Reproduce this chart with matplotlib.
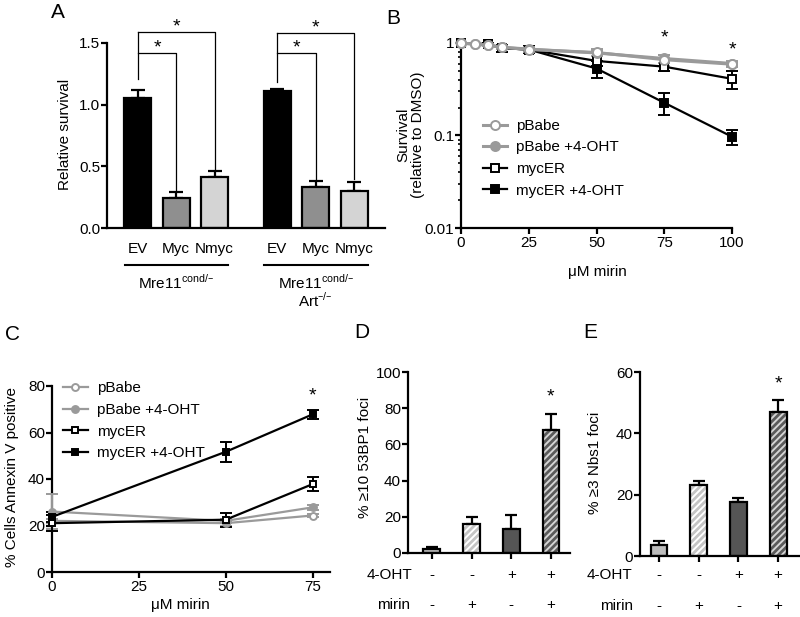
import matplotlib
matplotlib.use('Agg')
import matplotlib.pyplot as plt
from matplotlib.transforms import blended_transform_factory as btf
from matplotlib.ticker import FixedLocator, LogLocator, NullFormatter, FixedFormatter

plt.rcParams['font.family'] = ['Liberation Sans', 'DejaVu Sans']
plt.rcParams['font.size'] = 11
plt.rcParams['axes.linewidth'] = 1.6
plt.rcParams['xtick.major.width'] = 1.6
plt.rcParams['ytick.major.width'] = 1.6
plt.rcParams['xtick.major.size'] = 4
plt.rcParams['ytick.major.size'] = 4
plt.rcParams['xtick.major.pad'] = 2
plt.rcParams['ytick.major.pad'] = 1
plt.rcParams['hatch.linewidth'] = 2.0

# ---------------- data ----------------
# Panel A
a_labels = ['EV', 'Myc', 'Nmyc', 'EV', 'Myc', 'Nmyc']
a_pos = [0, 1, 2, 3.63, 4.63, 5.63]
a_vals = [1.05, 0.24, 0.41, 1.11, 0.33, 0.30]
a_err = [0.07, 0.05, 0.05, 0.02, 0.05, 0.07]
a_colors = ['black', '#8f8f8f', '#d4d4d4', 'black', '#8f8f8f', '#d4d4d4']
a_yticks = [0.0, 0.5, 1.0, 1.5]

# Panel B
b_x_pb = [0, 5, 10, 15, 25, 50, 75, 100]
b_pbabe = [1.0, 0.97, 0.95, 0.90, 0.85, 0.79, 0.66, 0.59]
b_pbabe_err = [0.0, 0.0, 0.03, 0.03, 0.05, 0.07, 0.09, 0.04]
b_pbabe_oht = [1.0, 0.97, 0.95, 0.90, 0.86, 0.78, 0.68, 0.60]
b_pbabe_oht_err = [0.0, 0.0, 0.03, 0.03, 0.05, 0.06, 0.07, 0.04]
b_x_myc = [0, 10, 15, 25, 50, 75, 100]
b_myc = [1.0, 0.97, 0.88, 0.85, 0.64, 0.555, 0.41]
b_myc_err = [0.0, 0.03, 0.08, 0.07, 0.08, 0.06, 0.09]
b_myc_oht = [1.0, 0.97, 0.88, 0.85, 0.53, 0.226, 0.097]
b_myc_oht_err = [0.0, 0.03, 0.08, 0.07, 0.11, 0.06, 0.018]
b_xticks = [0, 25, 50, 75, 100]

# Panel C
c_x = [0, 50, 75]
c_pbabe = [22.0, 21.0, 24.3]
c_pbabe_err = [1.0, 1.0, 0.8]
c_pbabe_oht = [26.0, 22.0, 27.8]
c_pbabe_oht_err = [7.5, 1.0, 1.0]
c_myc = [21.0, 22.5, 37.8]
c_myc_err = [3.5, 3.0, 3.0]
c_myc_oht = [23.7, 51.7, 67.8]
c_myc_oht_err = [2.0, 4.3, 2.0]
c_xticks = [0, 25, 50, 75]

series_labels = ['pBabe', 'pBabe +4-OHT', 'mycER', 'mycER +4-OHT']

# Panels D & E
de_oht = ['-', '-', '+', '+']
de_mirin = ['-', '+', '-', '+']
d_vals = [2.0, 16.0, 13.0, 68.0]
d_err = [1.3, 4.0, 8.0, 9.0]
e_vals = [3.5, 23.0, 17.5, 47.0]
e_err = [1.5, 1.5, 1.5, 4.0]

# ---------------- figure ----------------
W, H = 800, 617
fig = plt.figure(figsize=(8, 6.17), dpi=100)


def add_ax(l, t, r, b):
    return fig.add_axes([l / W, 1 - b / H, (r - l) / W, (b - t) / H])


def ftext(x, y, s, **kw):
    return fig.text(x / W, 1 - y / H, s, **kw)


def style(ax):
    for s in ['top', 'right']:
        ax.spines[s].set_visible(False)
    ax.tick_params(direction='out')


GRAY = '#9a9a9a'
STAR = 14

# ---------------- Panel A ----------------
axA = add_ax(107, 43, 385, 228)
style(axA)
axA.bar(a_pos, a_vals, width=0.7, color=a_colors, edgecolor='black', linewidth=1.6, zorder=2)
axA.errorbar(a_pos, a_vals, yerr=[[0] * 6, a_err], fmt='none', ecolor='black',
             elinewidth=1.6, capsize=5, capthick=1.6, zorder=1)
axA.set_xlim(-0.8, 6.43)
axA.set_ylim(0, 1.5)
axA.set_yticks(a_yticks)
axA.set_yticklabels(['0.0', '0.5', '1.0', '1.5'])
axA.set_xticks(a_pos)
axA.set_xticklabels(a_labels)
axA.tick_params(axis='x', length=0, pad=10)

# significance brackets
def bracket(x0, x1, x2, y_left, y_in, y_out, y_m, y_n, s_in, s_out):
    kw = dict(color='black', lw=0.9, clip_on=False)
    axA.plot([x0, x0], [y_left, y_out], **kw)
    axA.plot([x0, x2, x2], [y_out, y_out, y_n], **kw)
    axA.plot([x0, x1, x1], [y_in, y_in, y_m], **kw)
    axA.text((x0 + x1) / 2, s_in, '*', ha='center', va='center', fontsize=STAR)
    axA.text((x0 + x2) / 2, s_out, '*', ha='center', va='center', fontsize=STAR)

bracket(a_pos[0], a_pos[1], a_pos[2], 1.21, 1.42, 1.59, 0.31, 0.47, 1.46, 1.63)
bracket(a_pos[3], a_pos[4], a_pos[5], 1.18, 1.42, 1.58, 0.39, 0.40, 1.46, 1.62)

trA = btf(axA.transData, axA.transAxes)
axA.plot([-0.32, 2.35], [-0.2, -0.2], color='black', lw=1.5, transform=trA, clip_on=False)
axA.plot([3.28, 5.98], [-0.2, -0.2], color='black', lw=1.5, transform=trA, clip_on=False)
axA.text(1.0, -0.295, 'Mre11$^{\\mathregular{cond/\u2013}}$', transform=trA, ha='center', va='center')
axA.text(4.63, -0.295, 'Mre11$^{\\mathregular{cond/\u2013}}$', transform=trA, ha='center', va='center')
axA.text(4.63, -0.39, 'Art$^{\\mathregular{\u2013/\u2013}}$', transform=trA, ha='center', va='center')
ftext(65, 134, 'Relative survival', rotation=90, ha='center', va='center')

# ---------------- Panel B ----------------
axB = add_ax(461, 43, 732, 228)
style(axB)
axB.set_yscale('log')
axB.set_ylim(0.01, 1)
axB.set_xlim(0, 100)
axB.yaxis.set_major_locator(FixedLocator([0.01, 0.1, 1]))
axB.yaxis.set_major_formatter(FixedFormatter(['0.01', '0.1', '1']))
axB.yaxis.set_minor_locator(LogLocator(base=10, subs=range(2, 10)))
axB.yaxis.set_minor_formatter(NullFormatter())
axB.tick_params(axis='y', which='minor', length=2.5, width=1.2)
axB.set_xticks(b_xticks)

def series(ax, x, y, e, marker, mfc, color, lw, ms, label):
    ax.errorbar(x, y, yerr=e, fmt='none', ecolor=color, elinewidth=1.4, capsize=4,
                capthick=1.4, clip_on=False, zorder=3)
    ln, = ax.plot(x, y, marker=marker, color=color, mfc=mfc, mec=color, mew=1.4,
                  lw=lw, ms=ms, clip_on=False, zorder=4, label=label)
    return ln

hB = []
hB.append(series(axB, b_x_myc, b_myc_oht, b_myc_oht_err, 's', 'black', 'black', 1.6, 6, series_labels[3]))
hB.append(series(axB, b_x_myc, b_myc, b_myc_err, 's', 'white', 'black', 1.6, 6, series_labels[2]))
hB.append(series(axB, b_x_pb, b_pbabe_oht, b_pbabe_oht_err, 'o', GRAY, GRAY, 2.2, 6.5, series_labels[1]))
hB.append(series(axB, b_x_pb, b_pbabe, b_pbabe_err, 'o', 'white', GRAY, 2.2, 6.5, series_labels[0]))
axB.legend(handles=hB[::-1], loc='upper left', bbox_to_anchor=(0.08, 0.59), frameon=False,
           borderpad=0, borderaxespad=0, handlelength=1.6, handletextpad=0.6, labelspacing=0.5)
axB.text(75, 1.12, '*', ha='center', va='center', fontsize=STAR)
axB.text(100, 0.85, '*', ha='center', va='center', fontsize=STAR)
ftext(411, 135, 'Survival\n(relative to DMSO)', rotation=90, ha='center', va='center',
      linespacing=1.05)
ftext(597, 272, 'μM mirin', ha='center', va='center')

# ---------------- Panel C ----------------
axC = add_ax(52, 386, 330, 572)
style(axC)
axC.set_xlim(0, 80)
axC.set_ylim(0, 80)
axC.set_xticks(c_xticks)
axC.set_yticks([0, 20, 40, 60, 80])
hC = []
hC.append(series(axC, c_x, c_pbabe, c_pbabe_err, 'o', 'white', GRAY, 1.6, 5, series_labels[0]))
hC.append(series(axC, c_x, c_pbabe_oht, c_pbabe_oht_err, 'o', GRAY, GRAY, 1.6, 5, series_labels[1]))
hC.append(series(axC, c_x, c_myc, c_myc_err, 's', 'white', 'black', 1.6, 5, series_labels[2]))
hC.append(series(axC, c_x, c_myc_oht, c_myc_oht_err, 's', 'black', 'black', 1.6, 5, series_labels[3]))
axC.legend(handles=hC, loc='upper left', bbox_to_anchor=(0.04, 1.025), frameon=False,
           borderpad=0, borderaxespad=0, handlelength=1.6, handletextpad=0.6, labelspacing=0.5)
axC.text(75, 75.5, '*', ha='center', va='center', fontsize=STAR)
ftext(12, 477, '% Cells Annexin V positive', rotation=90, ha='center', va='center')
ftext(180, 605, 'μM mirin', ha='center', va='center')

# ---------------- Panels D, E ----------------
def foci(ax, vals, errs, ylim, yticks, xlim, oht_xy, mirin_xy, ylab_xy, ylab, star_y):
    style(ax)
    pos = list(range(len(vals)))
    w = 0.42
    fills = ['#bcbcbc', 'white', '#555555', '#d4d4d4']
    hatches = [None, '/////', None, '/////']
    hcols = [None, '#c4c4c4', None, '#5a5a5a']
    for i, p in enumerate(pos):
        if hatches[i]:
            ax.bar(p, vals[i], width=w, color=fills[i], hatch=hatches[i], edgecolor=hcols[i],
                   linewidth=0, zorder=2)
            ax.bar(p, vals[i], width=w, fill=False, edgecolor='black', linewidth=1.6, zorder=3)
        else:
            ax.bar(p, vals[i], width=w, color=fills[i], edgecolor='black', linewidth=1.6, zorder=2)
    ax.errorbar(pos, vals, yerr=[[0] * len(vals), errs], fmt='none', ecolor='black',
                elinewidth=1.6, capsize=4, capthick=1.6, zorder=1)
    ax.set_xlim(*xlim)
    ax.set_ylim(*ylim)
    ax.set_yticks(yticks)
    ax.set_xticks(pos)
    ax.set_xticklabels([''] * len(pos))
    tr = btf(ax.transData, ax.transAxes)
    for i, p in enumerate(pos):
        ax.text(p, oht_xy[1], de_oht[i], transform=tr, ha='center', va='center')
        ax.text(p, mirin_xy[1], de_mirin[i], transform=tr, ha='center', va='center')
    ax.text(oht_xy[0], oht_xy[1], '4-OHT', transform=ax.transAxes, ha='right', va='center')
    ax.text(mirin_xy[0], mirin_xy[1], 'mirin', transform=ax.transAxes, ha='right', va='center')
    ax.text(pos[-1], star_y, '*', ha='center', va='center', fontsize=STAR)
    ftext(ylab_xy[0], ylab_xy[1], ylab, rotation=90, ha='center', va='center')

axD = add_ax(408, 372, 570, 553)
foci(axD, d_vals, d_err, (0, 100), [0, 20, 40, 60, 80, 100], (-0.6, 3.48),
     (0.025, -0.12), (0.012, -0.29), (365, 457), '% ≥10 53BP1 foci', 86)
axE = add_ax(640, 372, 800, 556)
foci(axE, e_vals, e_err, (0, 60), [0, 20, 40, 60], (-0.48, 3.55),
     (-0.05, -0.105), (-0.045, -0.27), (595, 463), '% ≥3 Nbs1 foci', 56)

# panel letters
for s, x, y in [('A', 58, 13), ('B', 393, 18), ('C', 12, 335), ('D', 362, 333), ('E', 590, 333)]:
    ftext(x, y, s, fontsize=15, ha='center', va='center')

fig.savefig('out.png', dpi=100)
